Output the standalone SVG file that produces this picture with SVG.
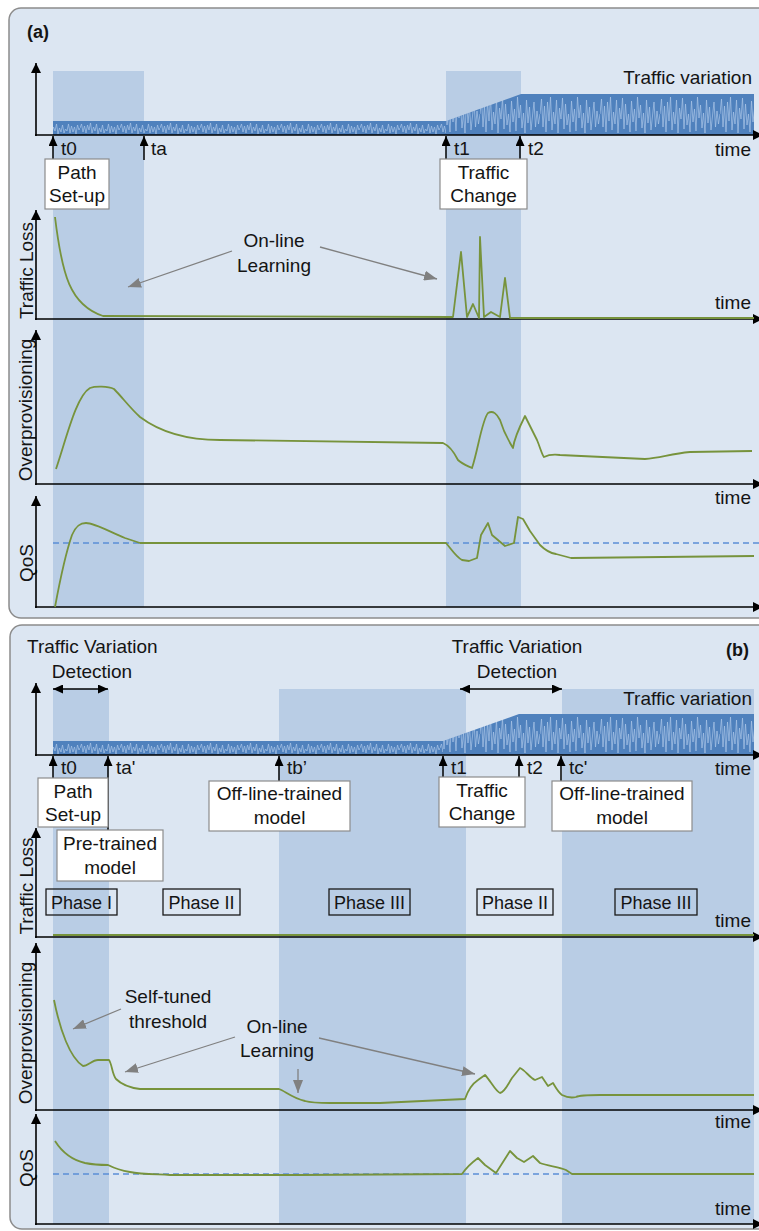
<svg xmlns="http://www.w3.org/2000/svg" width="759" height="1231" viewBox="0 0 759 1231">
  <style>
    text { font-family: "Liberation Sans", Arial, sans-serif; font-size: 19px; fill: #141414; }
    .mid { text-anchor: middle; }
    .end { text-anchor: end; }
    .bold { font-weight: bold; font-size: 18px; }
    .phase { font-size: 18px; }
    .panel { fill: #dce6f2; stroke: #8c8c8c; stroke-width: 1.5; }
    .shade { fill: #b9cde5; }
    .axis { stroke: #000; stroke-width: 1.6; fill: none; marker-end: url(#axisHead); }
    .tick { stroke: #000; stroke-width: 1.5; fill: none; marker-end: url(#tickHead); }
    .curve { stroke: #77933c; stroke-width: 1.8; fill: none; stroke-linejoin: round; }
    .dash { stroke: #5b8fd6; stroke-width: 1.3; stroke-dasharray: 6 4; fill: none; }
    .note { stroke: #808080; stroke-width: 1.3; fill: none; marker-end: url(#noteHead); }
    .box { fill: #ffffff; stroke: #8c8c8c; stroke-width: 1.2; }
    .pbox { fill: none; stroke: #1a1a1a; stroke-width: 1.3; }
    .span { stroke: #000; stroke-width: 1.5; fill: none; marker-start: url(#spanHead); marker-end: url(#spanHead); }
  </style>
  <defs>
    <marker id="axisHead" markerUnits="userSpaceOnUse" markerWidth="11" markerHeight="10" refX="10" refY="5" orient="auto">
      <path d="M0,0 L10,5 L0,10 z" fill="#000"/>
    </marker>
    <marker id="tickHead" markerUnits="userSpaceOnUse" markerWidth="11" markerHeight="9" refX="10" refY="4.5" orient="auto">
      <path d="M0,0 L10,4.5 L0,9 z" fill="#000"/>
    </marker>
    <marker id="spanHead" markerUnits="userSpaceOnUse" markerWidth="11" markerHeight="9" refX="10" refY="4.5" orient="auto-start-reverse">
      <path d="M0,0 L10,4.5 L0,9 z" fill="#000"/>
    </marker>
    <marker id="noteHead" markerUnits="userSpaceOnUse" markerWidth="14" markerHeight="10" refX="13" refY="5" orient="auto">
      <path d="M0,0 L13,5 L0,10 z" fill="#808080"/>
    </marker>
    <!-- noisy traffic fill: low level band -->
    <pattern id="lowWave" patternUnits="userSpaceOnUse" x="0" y="-14" width="40" height="14">
      <rect width="40" height="14" fill="#4f81bd"/>
      <polyline fill="none" stroke="#a9c4e6" stroke-width="0.7" points="0,7 1.5,3 3,11 4.5,5 6,12 7.5,4 9,9 10.5,2 12,12 13.5,6 15,10 16.5,3 18,13 19.5,7 21,11 22.5,4 24,12 25.5,8 27,10 28.5,3 30,12 31.5,5 33,11 34.5,6 36,13 37.5,4 39,9 40,7"/>
    </pattern>
    <!-- noisy traffic fill: high level band -->
    <pattern id="highWave" patternUnits="userSpaceOnUse" x="0" y="-41" width="60" height="41">
      <rect width="60" height="41" fill="#4f81bd"/>
      <polyline fill="none" stroke="#a9c4e6" stroke-width="0.7" points="0,20 1.5,5 3,33 4.5,12 6,38 7.5,8 9,27 10.5,3 12,36 13.5,18 15,30 16.5,6 18,39 19.5,14 21,25 22.5,4 24,35 25.5,10 27,31 28.5,20 30,38 31.5,7 33,28 34.5,15 36,37 37.5,3 39,24 40.5,11 42,34 43.5,19 45,39 46.5,6 48,29 49.5,13 51,36 52.5,22 54,8 55.5,33 57,17 58.5,30 60,20"/>
    </pattern>
  </defs>

  <!-- ============ Panel (a) ============ -->
  <g id="panel-a">
    <rect class="panel" x="9" y="8" width="770" height="610" rx="12"/>
    <rect class="shade" x="53" y="71" width="91" height="536"/>
    <rect class="shade" x="446" y="71" width="75" height="536"/>
    <text class="bold" x="27" y="38">(a)</text>
    <g transform="translate(0,135)">
      <rect x="53" y="-14" width="393" height="14" fill="url(#lowWave)"/>
      <polygon points="446,0 446,-14 521,-41 754,-41 754,0" fill="url(#highWave)"/>
    </g>
    <text class="end" x="752" y="84">Traffic variation</text>
    <text class="end" x="751" y="156">time</text>
    <text class="end" x="751" y="309">time</text>
    <text class="end" x="751" y="504">time</text>
    <text transform="translate(33,270.5) rotate(-90)" class="mid">Traffic Loss</text>
    <text transform="translate(32,410) rotate(-90)" class="mid">Overprovisioning</text>
    <text transform="translate(33,563) rotate(-90)" class="mid">QoS</text>
  </g>

  <g id="axes-a">
    <line class="axis" x1="36" y1="136" x2="36" y2="63"/>
    <line class="axis" x1="35" y1="135" x2="763" y2="135"/>
    <line class="axis" x1="36" y1="320" x2="36" y2="210"/>
    <line class="axis" x1="35" y1="319" x2="763" y2="319"/>
    <line class="axis" x1="36" y1="485" x2="36" y2="330"/>
    <line class="axis" x1="35" y1="484" x2="763" y2="484"/>
    <line class="axis" x1="36" y1="608" x2="36" y2="496"/>
    <line class="axis" x1="35" y1="607" x2="763" y2="607"/>
  </g>

  <g id="curves-a">
    <path class="curve" d="M55,217 C62,275 70,305 103,316 L453,317 L461,252 L467,317 L473,304 L479,318 L480,237 L484,317 L491,312 L500,317 L505,278 L510,318 L754,318"/>
    <path class="curve" d="M56,469 C66,440 76,396 90,388 C95,386 108,386 114,389 C122,397 130,408 140,417 C160,432 185,440 220,440 L443,443 C450,446 454,452 458,460 C462,464 468,466 472,468 C478,450 482,420 488,413 C493,410 497,414 500,420 C503,430 508,440 513,448 C514,440 518,430 525,416 L537,440 C540,447 542,455 544,457 C548,455 552,454 560,455 L645,459 C660,458 670,454 690,452 L752,451"/>
    <line class="dash" x1="53" y1="543" x2="759" y2="543"/>
    <path class="curve" d="M55,607 C60,580 65,555 72,535 C76,526 80,523 86,523 C95,523 110,532 125,538 L140,543 L446,543 C452,550 456,557 462,560 L469,561 L477,558 L481,535 L488,523 L492,535 L505,546 L514,543 L518,517 L523,519 L530,531 L540,545 C545,550 550,553 556,554 L571,558 L754,556"/>
  </g>

  <g id="events-a">
    <line class="tick" x1="53" y1="160" x2="53" y2="136"/>
    <text x="61" y="155">t0</text>
    <line class="tick" x1="144" y1="160" x2="144" y2="136"/>
    <text x="151" y="155">ta</text>
    <line class="tick" x1="446" y1="160" x2="446" y2="136"/>
    <text x="454" y="155">t1</text>
    <line class="tick" x1="520" y1="160" x2="520" y2="136"/>
    <text x="528" y="155">t2</text>
  </g>

  <g id="node-a-path-setup">
    <rect class="box" x="45" y="159" width="64" height="50"/>
    <text class="mid" x="77" y="179">Path</text>
    <text class="mid" x="77" y="202">Set-up</text>
  </g>
  <g id="node-a-traffic-change">
    <rect class="box" x="440" y="159" width="87" height="50"/>
    <text class="mid" x="483.5" y="179">Traffic</text>
    <text class="mid" x="483.5" y="202">Change</text>
  </g>

  <g id="note-a-online">
    <text class="mid" x="274" y="247">On-line</text>
    <text class="mid" x="274" y="272">Learning</text>
    <line class="note" x1="232" y1="251" x2="128" y2="287"/>
    <line class="note" x1="320" y1="247" x2="437" y2="279"/>
  </g>

  <!-- ============ Panel (b) ============ -->
  <g id="panel-b">
    <rect class="panel" x="10" y="625" width="770" height="604" rx="12"/>
    <rect class="shade" x="53" y="689" width="56" height="535"/>
    <rect class="shade" x="279" y="689" width="187" height="535"/>
    <rect class="shade" x="562" y="689" width="192" height="535"/>
    <text x="27" y="653">Traffic Variation</text>
    <text class="mid" x="92" y="678">Detection</text>
    <text class="mid" x="517" y="653">Traffic Variation</text>
    <text class="mid" x="517" y="678">Detection</text>
    <text class="bold end" x="749" y="656">(b)</text>
    <g transform="translate(0,755)">
      <rect x="53" y="-14" width="390" height="14" fill="url(#lowWave)"/>
      <polygon points="443,0 443,-14 519,-41 754,-41 754,0" fill="url(#highWave)"/>
    </g>
    <text class="end" x="752" y="705">Traffic variation</text>
    <text class="end" x="751" y="775">time</text>
    <text class="end" x="751" y="927">time</text>
    <text class="end" x="751" y="1128">time</text>
    <text class="end" x="751" y="1215">time</text>
    <text transform="translate(33,886) rotate(-90)" class="mid">Traffic Loss</text>
    <text transform="translate(32,1033) rotate(-90)" class="mid">Overprovisioning</text>
    <text transform="translate(33,1168) rotate(-90)" class="mid">QoS</text>
  </g>

  <g id="axes-b">
    <line class="axis" x1="36" y1="756" x2="36" y2="683"/>
    <line class="axis" x1="35" y1="755" x2="763" y2="755"/>
    <line class="axis" x1="36" y1="938" x2="36" y2="828"/>
    <line class="axis" x1="35" y1="937" x2="763" y2="937"/>
    <line class="axis" x1="36" y1="1111" x2="36" y2="943"/>
    <line class="axis" x1="35" y1="1110" x2="763" y2="1110"/>
    <line class="axis" x1="36" y1="1225" x2="36" y2="1114"/>
    <line class="axis" x1="35" y1="1224" x2="763" y2="1224"/>
  </g>

  <g id="spans-b">
    <line class="span" x1="53" y1="689" x2="108" y2="689"/>
    <line class="span" x1="460" y1="689" x2="562" y2="689"/>
  </g>

  <g id="curves-b">
    <line class="curve" x1="53" y1="935" x2="754" y2="935"/>
    <path class="curve" d="M54,1000 C60,1030 70,1058 83,1066 C88,1066 92,1060 98,1060 L109,1060 C112,1064 112,1074 116,1079 C122,1085 132,1088 140,1089 L279,1089 C285,1091 292,1098 305,1101 C312,1103 320,1103 330,1103 L380,1103 L465,1099 C468,1090 472,1084 478,1080 L485,1075 C490,1080 496,1092 500,1093 C505,1092 508,1084 512,1078 L520,1068 C525,1070 530,1078 535,1080 L542,1077 L548,1086 L553,1083 C556,1088 558,1092 562,1095 C566,1097 572,1098 576,1097 C580,1095 590,1095 600,1095 L754,1095"/>
    <line class="dash" x1="53" y1="1174" x2="754" y2="1174"/>
    <path class="curve" d="M55,1141 C62,1152 72,1160 85,1163 C95,1165 103,1165 108,1165 C112,1167 118,1170 130,1172 C140,1174 150,1174 170,1175 L300,1175 L462,1174 C466,1168 470,1164 478,1158 L485,1165 L496,1173 L503,1162 L510,1151 L517,1158 L524,1162 L533,1156 L540,1163 C548,1166 560,1167 566,1170 L572,1174 L754,1174"/>
  </g>

  <g id="events-b">
    <line class="tick" x1="53" y1="779" x2="53" y2="756"/>
    <text x="61" y="774">t0</text>
    <line class="tick" x1="108" y1="830" x2="108" y2="756"/>
    <text x="116" y="774">ta'</text>
    <line class="tick" x1="279" y1="781" x2="279" y2="756"/>
    <text x="287" y="774">tb’</text>
    <line class="tick" x1="443" y1="777" x2="443" y2="756"/>
    <text x="451" y="774">t1</text>
    <line class="tick" x1="519" y1="777" x2="519" y2="756"/>
    <text x="527" y="774">t2</text>
    <line class="tick" x1="561" y1="781" x2="561" y2="756"/>
    <text x="569" y="774">tc'</text>
  </g>

  <g id="node-b-path-setup">
    <rect class="box" x="38" y="778" width="70" height="49"/>
    <text class="mid" x="73" y="798">Path</text>
    <text class="mid" x="73" y="821">Set-up</text>
  </g>
  <g id="node-b-pretrained">
    <rect class="box" x="57" y="830" width="106" height="51"/>
    <text class="mid" x="110" y="850">Pre-trained</text>
    <text class="mid" x="110" y="874">model</text>
  </g>
  <g id="node-b-offline-1">
    <rect class="box" x="209" y="781" width="141" height="50"/>
    <text class="mid" x="279.5" y="800">Off-line-trained</text>
    <text class="mid" x="279.5" y="824">model</text>
  </g>
  <g id="node-b-traffic-change">
    <rect class="box" x="439" y="777" width="86" height="50"/>
    <text class="mid" x="482" y="797">Traffic</text>
    <text class="mid" x="482" y="820">Change</text>
  </g>
  <g id="node-b-offline-2">
    <rect class="box" x="552" y="781" width="140" height="50"/>
    <text class="mid" x="622" y="800">Off-line-trained</text>
    <text class="mid" x="622" y="824">model</text>
  </g>

  <g id="phases-b">
    <g id="phase-1a"><rect class="pbox" x="46" y="889" width="71" height="26"/><text class="phase mid" x="81.5" y="909">Phase I</text></g>
    <g id="phase-2a"><rect class="pbox" x="163" y="889" width="77" height="26"/><text class="phase mid" x="201.5" y="909">Phase II</text></g>
    <g id="phase-3a"><rect class="pbox" x="329" y="889" width="81" height="26"/><text class="phase mid" x="369.5" y="909">Phase III</text></g>
    <g id="phase-2b"><rect class="pbox" x="477" y="889" width="76" height="26"/><text class="phase mid" x="515" y="909">Phase II</text></g>
    <g id="phase-3b"><rect class="pbox" x="615" y="889" width="82" height="26"/><text class="phase mid" x="656" y="909">Phase III</text></g>
  </g>

  <g id="note-b-selftuned">
    <text class="mid" x="168" y="1003">Self-tuned</text>
    <text class="mid" x="168" y="1028">threshold</text>
    <line class="note" x1="121" y1="1009" x2="73" y2="1029"/>
  </g>
  <g id="note-b-online">
    <text class="mid" x="277" y="1033">On-line</text>
    <text class="mid" x="277" y="1057">Learning</text>
    <line class="note" x1="235" y1="1037" x2="125" y2="1072"/>
    <line class="note" x1="298" y1="1069" x2="298" y2="1093"/>
    <line class="note" x1="319" y1="1038" x2="475" y2="1074"/>
  </g>
</svg>
